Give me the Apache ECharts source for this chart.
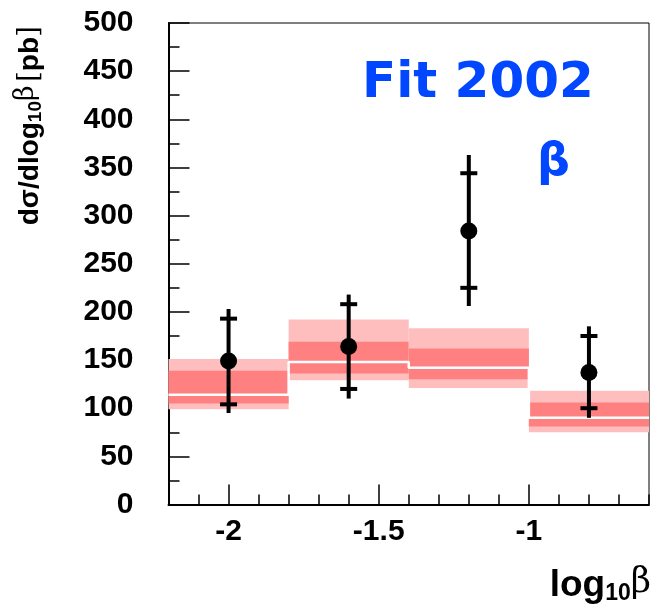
<!DOCTYPE html>
<html>
<head>
<meta charset="utf-8">
<script src="https://cdn.jsdelivr.net/npm/echarts@6/dist/echarts.min.js"></script>
<style>html,body{margin:0;padding:0;background:#fff}#c{width:652px;height:614px}</style>
</head>
<body>
<div id="c"></div>
<script>
// Bins (log10 beta)
var binLow  = [-2.2, -1.8, -1.4, -1.0];
var binHigh = [-1.8, -1.4, -1.0, -0.6];
// Fit bands
var outerHigh = [151, 192, 183, 118];
var innerHigh = [139, 169, 162, 106];
var central   = [114, 148, 142, 90];
var innerLow  = [105, 136, 130, 81];
var outerLow  = [99, 129, 121, 75];
// Data points
var xPoints  = [-2.0, -1.6, -1.2, -0.8];
var yValues  = [149, 164, 284, 137];
var statHigh = [193, 208, 344, 175];
var statLow  = [104, 120, 225, 100];
var totHigh  = [203, 218, 363, 185];
var totLow   = [95, 110, 206, 90];
// Axis ticks
var xMajorTicks = [-2, -1.5, -1];

var FONT = '"Liberation Sans", Arial, sans-serif';
var chart = echarts.init(document.getElementById('c'), null, {renderer: 'canvas'});

var bandData = binLow.map(function (lo, i) {
  return [lo, binHigh[i], outerLow[i], innerLow[i], central[i], innerHigh[i], outerHigh[i]];
});
var stepData = binLow.map(function (lo, i) { return [lo, central[i]]; });
stepData.push([binHigh[binHigh.length - 1], central[central.length - 1]]);
var errData = xPoints.map(function (x, i) {
  return [x, totLow[i], statLow[i], yValues[i], statHigh[i], totHigh[i]];
});
var ptData = xPoints.map(function (x, i) { return [x, yValues[i]]; });

function rectBetween(api, x0, x1, y0, y1, color) {
  var p0 = api.coord([x0, y1]);
  var p1 = api.coord([x1, y0]);
  return {type: 'rect', shape: {x: p0[0], y: p0[1], width: p1[0] - p0[0], height: p1[1] - p0[1]},
          style: {fill: color}};
}

var option = {
  backgroundColor: '#fff',
  animation: false,
  grid: {left: 168.5, top: 23, right: 3, bottom: 109.5, show: true, borderColor: '#000', borderWidth: 1, backgroundColor: 'transparent'},
  xAxis: [{
    type: 'value', min: -2.2, max: -0.6, interval: 0.1,
    axisLine: {show: true, lineStyle: {color: '#000', width: 2}},
    axisTick: {show: true, inside: true, length: 10, lineStyle: {color: '#000', width: 1.5}},
    axisLabel: {show: false},
    splitLine: {show: false}
  }, {
    type: 'value', min: -2.2, max: -0.6, position: 'bottom', offset: 0,
    axisLine: {show: false},
    axisTick: {show: true, inside: true, length: 20, customValues: xMajorTicks, lineStyle: {color: '#000', width: 1.5}},
    axisLabel: {show: true, customValues: xMajorTicks, margin: 12, color: '#000', fontFamily: FONT, fontWeight: 'bold', fontSize: 30,
      formatter: function (v) { return String(v); }},
    splitLine: {show: false}
  }],
  yAxis: {
    type: 'value', min: 0, max: 500, interval: 50,
    axisLine: {show: true, lineStyle: {color: '#000', width: 2}},
    axisTick: {show: true, inside: true, length: 21, lineStyle: {color: '#000', width: 1.5}},
    minorTick: {show: true, splitNumber: 2, length: 11, lineStyle: {color: '#000', width: 1.5}},
    axisLabel: {margin: 35, color: '#000', fontFamily: FONT, fontWeight: 'bold', fontSize: 30},
    splitLine: {show: false}
  },
  series: [{
    type: 'custom', xAxisIndex: 0, data: bandData, z: 1,
    renderItem: function (params, api) {
      var lo = api.value(0), hi = api.value(1);
      return {type: 'group', children: [
        rectBetween(api, lo, hi, api.value(2), api.value(6), '#ffbebe'),
        rectBetween(api, lo, hi, api.value(3), api.value(5), '#ff8080')
      ]};
    }
  }, {
    type: 'line', xAxisIndex: 0, data: stepData, step: 'end', z: 2,
    symbol: 'none', lineStyle: {color: '#fff', width: 2.5}
  }, {
    type: 'custom', xAxisIndex: 0, data: errData, z: 3,
    renderItem: function (params, api) {
      var x = api.value(0);
      var pLo = api.coord([x, api.value(1)]);
      var pSLo = api.coord([x, api.value(2)]);
      var pSHi = api.coord([x, api.value(4)]);
      var pHi = api.coord([x, api.value(5)]);
      var w = 8.5;
      var st = {stroke: '#000', lineWidth: 4};
      return {type: 'group', children: [
        {type: 'line', shape: {x1: pLo[0], y1: pLo[1], x2: pHi[0], y2: pHi[1]}, style: st},
        {type: 'line', shape: {x1: pSLo[0] - w, y1: pSLo[1], x2: pSLo[0] + w, y2: pSLo[1]}, style: st},
        {type: 'line', shape: {x1: pSHi[0] - w, y1: pSHi[1], x2: pSHi[0] + w, y2: pSHi[1]}, style: st}
      ]};
    }
  }, {
    type: 'scatter', xAxisIndex: 0, data: ptData, z: 4,
    symbol: 'circle', symbolSize: 17, itemStyle: {color: '#000', opacity: 1}
  }],
  graphic: [{
    type: 'text', left: 362, top: 59, z: 10,
    style: {text: 'Fit 2002', fill: '#0047ff', font: 'bold 50px "DejaVu Sans"'}
  }, {
    type: 'text', left: 537, top: 140, z: 10,
    style: {text: 'β', fill: '#0047ff', font: 'bold 46px "DejaVu Sans"'}
  }, {
    type: 'text', x: 30, y: 26, rotation: Math.PI / 2, z: 10,
    style: {
      text: '{a|dσ/dlog}{s|10}{g|β} {c|[}{a|pb}{c|]}',
      align: 'right', verticalAlign: 'middle', fill: '#000',
      rich: {
        a: {fontFamily: FONT, fontWeight: 'bold', fontSize: 28, fill: '#000'},
        s: {fontFamily: FONT, fontWeight: 'bold', fontSize: 19, fill: '#000', padding: [12, 0, 0, 0]},
        g: {fontFamily: '"DejaVu Serif", serif', fontSize: 27, fill: '#000', padding: [0, 0, 8, 0]},
        c: {fontFamily: '"DejaVu Serif", serif', fontSize: 28, fill: '#000'}
      }
    }
  }, {
    type: 'text', right: 1, top: 565, z: 10,
    style: {
      text: '{a|log}{s|10}{g|β}', fill: '#000',
      rich: {
        a: {fontFamily: FONT, fontWeight: 'bold', fontSize: 37, fill: '#000'},
        s: {fontFamily: FONT, fontWeight: 'bold', fontSize: 23, fill: '#000', padding: [17, 0, 0, 0]},
        g: {fontFamily: '"DejaVu Serif", serif', fontSize: 35, fill: '#000', padding: [0, 0, 6, 0]}
      }
    }
  }]
};
chart.setOption(option);
</script>
</body>
</html>
